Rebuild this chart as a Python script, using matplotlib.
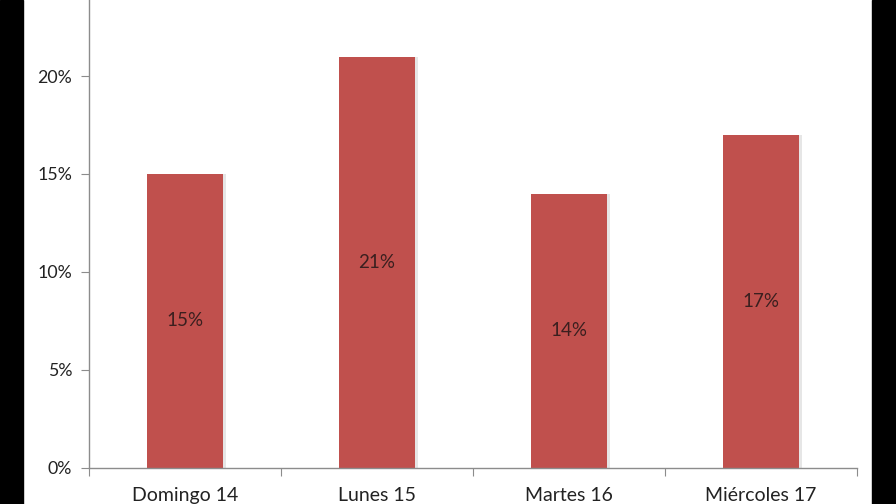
import matplotlib
matplotlib.use("Agg")
import matplotlib.pyplot as plt
from matplotlib.patches import Rectangle
from matplotlib.ticker import FixedLocator, NullFormatter

categories = ["Domingo 14", "Lunes 15", "Martes 16", "Miércoles 17"]
values = [15, 21, 14, 17]
yticks = [0, 5, 10, 15, 20]
ytick_labels = ["0%", "5%", "10%", "15%", "20%"]

plt.rcParams['font.family'] = ['Lato', 'DejaVu Sans']

W, H = 896, 504
fig = plt.figure(figsize=(W / 100, H / 100), dpi=100)
fig.patch.set_facecolor("white")

left, right = 89, 857
y0, y25 = 467.7, -21.8
ax = fig.add_axes([left / W, (H - y0) / H, (right - left) / W, (y0 - y25) / H])
ax.set_xlim(0, 4)
ax.set_ylim(0, 25)

x = [i + 0.5 for i in range(len(categories))]
bw = 0.40
# subtle shadow
ax.bar([xi + 0.015 for xi in x], values, width=bw, color="#e6e6e6", zorder=1)
bars = ax.bar(x, values, width=bw, color="#C0504D", zorder=2)
for xi, v in zip(x, values):
    ax.text(xi, v / 2, f"{v}%", ha="center", va="center", fontsize=13.5, color="#3a1f1f", zorder=3)

for s in ["top", "right"]:
    ax.spines[s].set_visible(False)
for s in ["left", "bottom"]:
    ax.spines[s].set_color("#8c8c8c")
    ax.spines[s].set_linewidth(1.0)

ax.set_yticks(yticks)
ax.set_yticklabels(ytick_labels)
ax.tick_params(axis="y", length=6, color="#8c8c8c", labelsize=12.8, labelcolor="#222222", pad=6)

ax.xaxis.set_major_locator(FixedLocator([0, 1, 2, 3, 4]))
ax.xaxis.set_major_formatter(NullFormatter())
ax.xaxis.set_minor_locator(FixedLocator(x))
ax.set_xticklabels(categories, minor=True)
ax.tick_params(axis="x", which="major", length=6, color="#8c8c8c")
ax.tick_params(axis="x", which="minor", length=0, labelsize=14, labelcolor="#222222", pad=14)

# black side borders
fig.patches.append(Rectangle((0, 0), 23 / W, 1, transform=fig.transFigure, color="black", zorder=10))
fig.patches.append(Rectangle((872 / W, 0), (W - 872) / W, 1, transform=fig.transFigure, color="black", zorder=10))

fig.savefig("out.png", dpi=100)
